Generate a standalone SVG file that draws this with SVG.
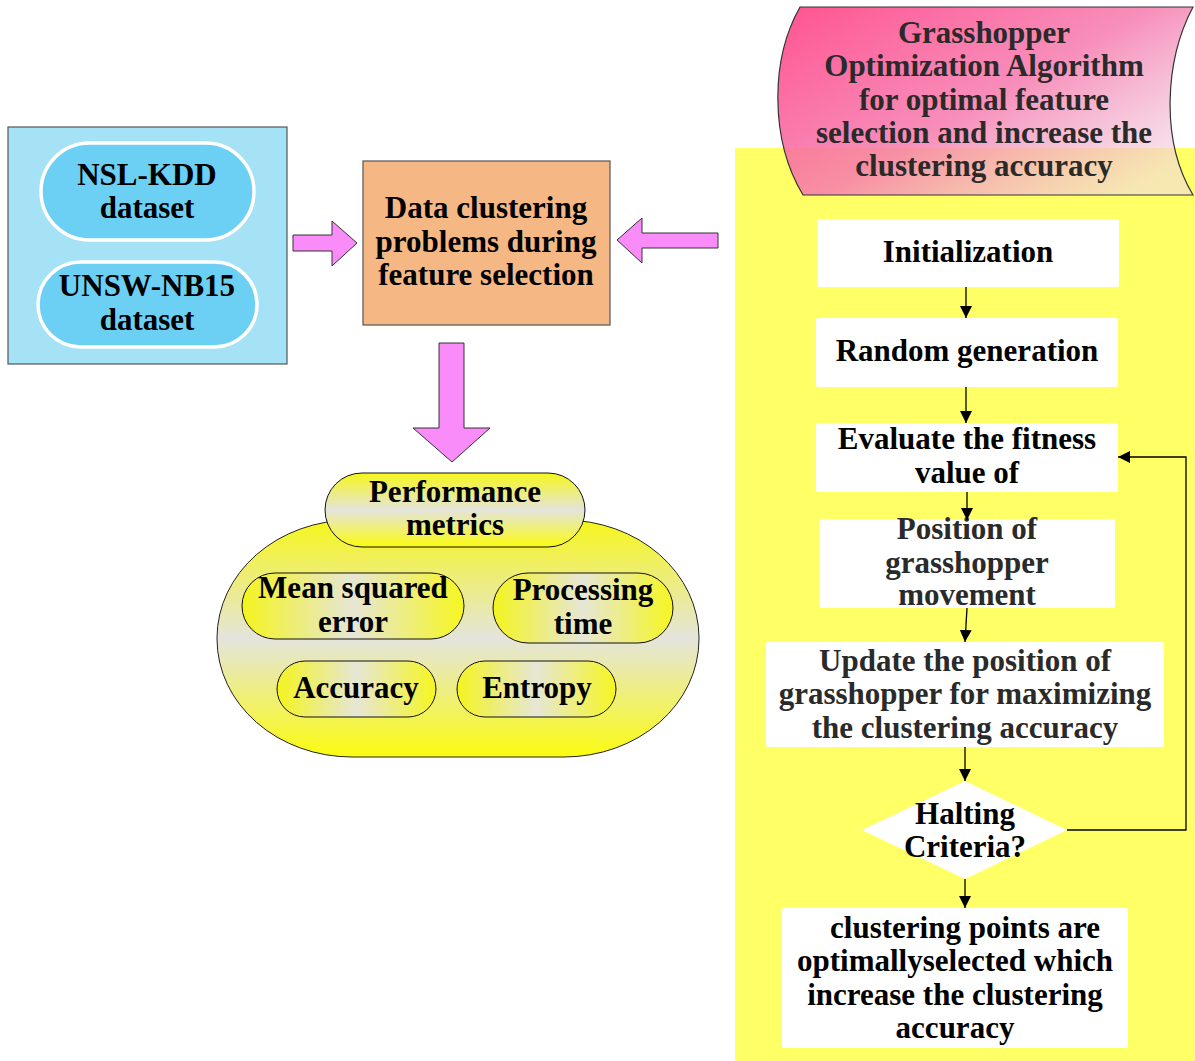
<svg xmlns="http://www.w3.org/2000/svg" width="1195" height="1061" viewBox="0 0 1195 1061">
<style>
text{font-family:"Liberation Serif","Times New Roman",serif;font-weight:bold;font-size:31px;text-anchor:middle;fill:#000}
.g{fill:#2a2a2a}
.wbox{fill:#fff;stroke:none}
.conn{stroke:#000;stroke-width:1.3;fill:none}
.fat{fill:#fa8cfa;stroke:#333;stroke-width:1}
.pill{stroke:#111;stroke-width:1}
</style>
<defs>
<marker id="ah" viewBox="0 0 10 10" refX="10" refY="5" markerUnits="userSpaceOnUse" markerWidth="12" markerHeight="14" orient="auto">
<path d="M0,0 L10,5 L0,10 z" fill="#000"/>
</marker>
<linearGradient id="ban" x1="0" y1="0" x2="1" y2="0.8">
<stop offset="0" stop-color="#ff4a8a" stop-opacity="0.95"/>
<stop offset="0.55" stop-color="#f67aae" stop-opacity="0.85"/>
<stop offset="1" stop-color="#f0d8e4" stop-opacity="0.6"/>
</linearGradient>
<linearGradient id="yv" x1="0" y1="0" x2="0" y2="1">
<stop offset="0" stop-color="#f6f61a"/>
<stop offset="0.5" stop-color="#e4e4dc"/>
<stop offset="1" stop-color="#fbfb10"/>
</linearGradient>
<linearGradient id="yh" x1="0" y1="0" x2="1" y2="0">
<stop offset="0" stop-color="#f4f41e"/>
<stop offset="0.5" stop-color="#e6e6d6"/>
<stop offset="1" stop-color="#f6f620"/>
</linearGradient>
</defs>

<!-- right yellow panel -->
<rect x="735" y="148" width="460" height="913" fill="#ffff66"/>

<g id="datasets">
<rect x="8" y="127" width="279" height="237" fill="#a6e2f6" stroke="#555" stroke-width="1.2"/>
<g id="nslkdd">
<rect x="41" y="143" width="213" height="97" rx="48.5" fill="#6cd0f4" stroke="#fff" stroke-width="3.5"/>
<text x="147" y="185">NSL-KDD</text>
<text x="147" y="218">dataset</text>
</g>
<g id="unsw">
<rect x="38" y="262" width="219" height="85" rx="42.5" fill="#6cd0f4" stroke="#fff" stroke-width="3.5"/>
<text x="147" y="296">UNSW-NB15</text>
<text x="147" y="330">dataset</text>
</g>
</g>

<g id="problem">
<rect x="363" y="161" width="247" height="164" fill="#f5b884" stroke="#555" stroke-width="1.2"/>
<text x="486" y="218">Data clustering</text>
<text x="486" y="252">problems during</text>
<text x="486" y="285">feature selection</text>
</g>

<g id="block-arrows">
<path class="fat" d="M293,235 H332 V221 L357,243 L332,266 V251 H293 Z"/>
<path class="fat" d="M718,233 H642 V218 L617,240 L642,263 V248 H718 Z"/>
<path class="fat" d="M439,343 H464 V428 H490 L452,462 L413,428 H439 Z"/>
</g>

<g id="metrics">
<rect x="217" y="520" width="482" height="237" rx="135" ry="118" fill="url(#yv)" stroke="#222" stroke-width="1"/>
<g id="perf">
<rect class="pill" x="325" y="473" width="260" height="74" rx="37" fill="url(#yv)"/>
<text x="455" y="502">Performance</text>
<text x="455" y="535">metrics</text>
</g>
<g id="mse">
<rect class="pill" x="242" y="573" width="222" height="66" rx="33" fill="url(#yh)"/>
<text x="353" y="598">Mean squared</text>
<text x="353" y="632">error</text>
</g>
<g id="ptime">
<rect class="pill" x="493" y="573" width="180" height="70" rx="35" fill="url(#yh)"/>
<text x="583" y="600">Processing</text>
<text x="583" y="634">time</text>
</g>
<g id="accuracy">
<rect class="pill" x="277" y="661" width="159" height="56" rx="28" fill="url(#yh)"/>
<text x="356" y="698">Accuracy</text>
</g>
<g id="entropy">
<rect class="pill" x="457" y="661" width="159" height="56" rx="28" fill="url(#yh)"/>
<text x="537" y="698">Entropy</text>
</g>
</g>

<g id="goa">
<path d="M800,7 L1193,7 C1165,60 1160,140 1193,195 L803,195 C770,140 770,60 800,7 Z" fill="url(#ban)" stroke="#333" stroke-width="1.2"/>
<text class="g" x="984" y="43">Grasshopper</text>
<text class="g" x="984" y="76">Optimization Algorithm</text>
<text class="g" x="984" y="110">for optimal feature</text>
<text class="g" x="984" y="143">selection and increase the</text>
<text class="g" x="984" y="176">clustering accuracy</text>
</g>

<g id="init">
<rect class="wbox" x="817" y="219" width="302" height="68" rx="2"/>
<text x="968" y="262">Initialization</text>
</g>
<g id="random">
<rect class="wbox" x="816" y="318" width="302" height="69" rx="2"/>
<text x="967" y="361">Random generation</text>
</g>
<g id="evaluate">
<rect class="wbox" x="816" y="423" width="302" height="69" rx="2"/>
<text x="967" y="449">Evaluate the fitness</text>
<text x="967" y="483">value of</text>
</g>
<g id="position">
<rect class="wbox" x="819" y="519" width="296" height="89" rx="2"/>
<text class="g" x="967" y="539">Position of</text>
<text class="g" x="967" y="573">grasshopper</text>
<text class="g" x="967" y="605">movement</text>
</g>
<g id="update">
<rect class="wbox" x="766" y="642" width="398" height="105" rx="2"/>
<text class="g" x="965" y="671">Update the position of</text>
<text class="g" x="965" y="704">grasshopper for maximizing</text>
<text class="g" x="965" y="738">the clustering accuracy</text>
</g>
<g id="halting">
<path d="M965,781 L1067,830 L965,879 L862,830 Z" fill="#fff"/>
<text x="965" y="824">Halting</text>
<text x="965" y="857">Criteria?</text>
</g>
<g id="result">
<rect class="wbox" x="782" y="908" width="346" height="140" rx="2"/>
<text x="965" y="938">clustering points are</text>
<text x="955" y="971">optimallyselected which</text>
<text x="955" y="1005">increase the clustering</text>
<text x="955" y="1038">accuracy</text>
</g>

<g id="connectors">
<path class="conn" d="M966,287 V318" marker-end="url(#ah)"/>
<path class="conn" d="M966,387 V423" marker-end="url(#ah)"/>
<path class="conn" d="M967,492 V520" marker-end="url(#ah)"/>
<path class="conn" d="M967,608 L965,642" marker-end="url(#ah)"/>
<path class="conn" d="M965,747 V781" marker-end="url(#ah)"/>
<path class="conn" d="M965,879 V908" marker-end="url(#ah)"/>
<path class="conn" d="M1067,830 H1186 V457 H1118" marker-end="url(#ah)"/>
</g>
</svg>
